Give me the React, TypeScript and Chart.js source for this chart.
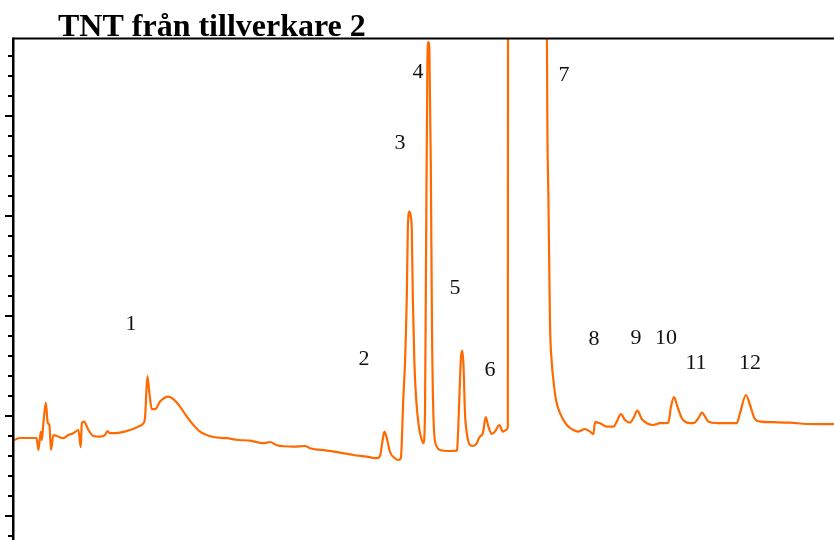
import React, { useEffect, useRef } from "react";
import { Chart, registerables } from "chart.js";

Chart.register(...registerables);

// Chromatogram trace: retention time (min) and detector signal (mAU)
const retentionTimes = [
  0, 0.3, 0.8, 1.13, 1.22, 1.34, 1.39, 1.47, 1.59, 1.69, 1.77, 1.85, 1.97, 2.14, 2.47, 2.72, 2.97,
  3.22, 3.34, 3.39, 3.5, 3.72, 3.97, 4.3, 4.55, 4.67, 4.8, 5.3, 5.8, 6.22, 6.47, 6.55, 6.67, 6.77,
  6.89, 7.05, 7.3, 7.72, 7.97, 8.3, 8.64, 8.97, 9.3, 9.97, 10.64, 11.22, 11.8, 12.47, 12.8, 13.14,
  13.97, 14.55, 14.8, 15.64, 16.3, 16.97, 17.64, 18.14, 18.3, 18.42, 18.52, 18.64, 18.8, 19.05,
  19.22, 19.34, 19.47, 19.55, 19.64, 19.69, 19.77, 19.84, 19.89, 19.94, 20.02, 20.1, 20.22, 20.3,
  20.47, 20.55, 20.6, 20.67, 20.72, 20.77, 20.84, 20.9, 21.0, 21.14, 21.3, 21.8, 22.14, 22.17,
  22.27, 22.34, 22.4, 22.47, 22.55, 22.64, 22.8, 22.97, 23.14, 23.27, 23.44, 23.59, 23.72, 23.89,
  24.05, 24.27, 24.44, 24.6, 24.69, 24.75, 25.7, 26.56, 26.67, 26.72, 26.8, 26.89, 26.97,
  27.1, 27.3, 27.64, 27.97, 28.22, 28.55, 28.8, 28.97, 29.05, 29.3, 29.64, 29.97, 30.14, 30.34,
  30.55, 30.8, 30.97, 31.17, 31.39, 31.64, 31.97, 32.3, 32.72, 32.85, 33.0, 33.17, 33.39, 33.64,
  33.97, 34.22, 34.39, 34.72, 35.14, 36.14, 36.3, 36.6, 36.8, 37.05, 37.3, 37.97, 38.8, 39.64, 41,
];

const signal = [
  38, 39, 39, 39, 33, 42.2, 38, 46.4, 56.7, 46.5, 45.5, 33, 40.5, 40, 38.9, 40.5, 41.4,
  43, 34.4, 46.4, 47.2, 43, 40, 39.7, 40.5, 42.5, 41.4, 41.7, 43, 44.7, 46.4, 48.9, 70, 61.4,
  53.4, 53.4, 57.2, 59.7, 58.4, 54.7, 49.7, 45.5, 42.2, 39.5, 38.9, 38, 37.7, 36.4, 37, 35.4,
  34.7, 35, 33.9, 32.7, 31.7, 30.5, 29.7, 28.9, 30, 37.2, 42.2, 38.9, 32, 28.9,
  28, 28.9, 59.7, 76.5, 109.7, 143, 152.2, 149.7, 143, 109.7, 76.5, 59.7, 46.4, 41.5,
  36.4, 51.4, 126.5, 226.5, 237, 233, 176.5, 93, 43, 34.7, 33, 32.5, 32.7, 34.7,
  59.7, 78, 82.7, 76.4, 51.4, 41.4, 35.5, 35, 36.4, 39.4, 41.4, 49.4, 44.7, 41,
  42.2, 45.5, 42.2, 43, 44.7, 1200, 2600, 420, 193, 160, 96.5, 76.5, 68,
  58, 51.4, 45.5, 43, 42.2, 43.5, 42.2, 40.9, 46.9, 46.4, 44.7, 44.7, 47.2, 50.9,
  48, 46.7, 48.9, 52.7, 48.4, 46.4, 45.5, 46.4, 46.7, 54.7, 59.4, 54.7, 48.9, 46.7,
  46.4, 48.9, 51.7, 47.2, 46.4, 46.4, 51.4, 60.5, 55.5, 48.4, 47.2, 46.9, 46.7, 46, 45.9,
];

// Peak numbering and where each number sits (time, signal)
const peakNumbers = ["1", "2", "3", "4", "5", "6", "7", "8", "9", "10", "11", "12"];
const peakLabelTimes = [5.85, 17.5, 19.3, 20.2, 22.05, 23.8, 27.5, 29.0, 31.1, 32.6, 34.1, 36.8];
const peakLabelSignals = [96, 78.5, 186.5, 222, 114, 73, 220.5, 88.5, 89, 89, 76.5, 76.5];

const chartTitle = "TNT från tillverkare 2";

// Axis ranges
const timeMin = 0;
const timeMax = 41;
const signalMin = -12;
const signalMax = 239;
const minorTickStep = 10;
const majorTickStep = 50;

const LINE_COLOR = "#ff6a00";

const chromPlugin = {
  id: "chromDecor",
  afterDatasetsDraw(chart: any) {
    const { ctx, scales } = chart;
    ctx.save();
    ctx.fillStyle = "#111";
    ctx.font = '22px "Liberation Serif", "Times New Roman", serif';
    ctx.textAlign = "center";
    ctx.textBaseline = "middle";
    peakNumbers.forEach((label, i) => {
      const x = scales.x.getPixelForValue(peakLabelTimes[i]);
      const y = scales.y.getPixelForValue(peakLabelSignals[i]);
      ctx.fillText(label, x, y);
    });
    ctx.restore();
  },
  afterDraw(chart: any) {
    const { ctx, chartArea, scales } = chart;
    ctx.save();
    // title
    ctx.fillStyle = "#000";
    ctx.font = 'bold 32px "Liberation Serif", "Times New Roman", serif';
    ctx.textAlign = "left";
    ctx.textBaseline = "alphabetic";
    ctx.fillText(chartTitle, 58, 36);

    // frame: left axis and top border
    ctx.strokeStyle = "#000";
    ctx.lineCap = "butt";
    ctx.lineWidth = 2;
    ctx.beginPath();
    ctx.moveTo(chartArea.left - 1, chartArea.top + 0.5);
    ctx.lineTo(chart.width, chartArea.top + 0.5);
    ctx.stroke();
    ctx.lineWidth = 2.5;
    ctx.beginPath();
    ctx.moveTo(chartArea.left - 0.75, chartArea.top - 0.5);
    ctx.lineTo(chartArea.left - 0.75, chartArea.bottom);
    ctx.stroke();

    // y ticks: long at major steps, short in between
    ctx.lineWidth = 2;
    const first = Math.ceil(signalMin / minorTickStep) * minorTickStep;
    for (let v = first; v <= signalMax; v += minorTickStep) {
      const y = Math.round(scales.y.getPixelForValue(v));
      if (y <= chartArea.top + 2) continue;
      const major = v % majorTickStep === 0;
      const len = major ? 7 : 4;
      ctx.beginPath();
      ctx.moveTo(chartArea.left - 2, y);
      ctx.lineTo(chartArea.left - 2 - len, y);
      ctx.stroke();
    }
    ctx.restore();
  },
};

export default function App() {
  const canvasRef = useRef<HTMLCanvasElement | null>(null);

  useEffect(() => {
    const canvas = canvasRef.current;
    if (!canvas) return;
    const points = retentionTimes.map((t, i) => ({ x: t, y: signal[i] }));
    const chart = new Chart(canvas, {
      type: "line",
      data: {
        datasets: [
          {
            label: chartTitle,
            data: points,
            borderColor: LINE_COLOR,
            borderWidth: 2.2,
            borderJoinStyle: "round",
            pointRadius: 0,
            cubicInterpolationMode: "monotone",
            fill: false,
          },
        ],
      },
      options: {
        responsive: false,
        animation: false,
        devicePixelRatio: 1,
        layout: { padding: { left: 14, top: 38, right: 0, bottom: 0 } },
        plugins: {
          legend: { display: false },
          title: { display: false },
          tooltip: { enabled: false },
        },
        scales: {
          x: { type: "linear", min: timeMin, max: timeMax, display: false },
          y: { type: "linear", min: signalMin, max: signalMax, display: false },
        },
      },
      plugins: [chromPlugin],
    });
    return () => chart.destroy();
  }, []);

  return (
    <div style={{ position: "absolute", left: 0, top: 0, width: 834, height: 540, background: "#fff" }}>
      <canvas ref={canvasRef} width={834} height={540} style={{ display: "block" }} />
    </div>
  );
}
